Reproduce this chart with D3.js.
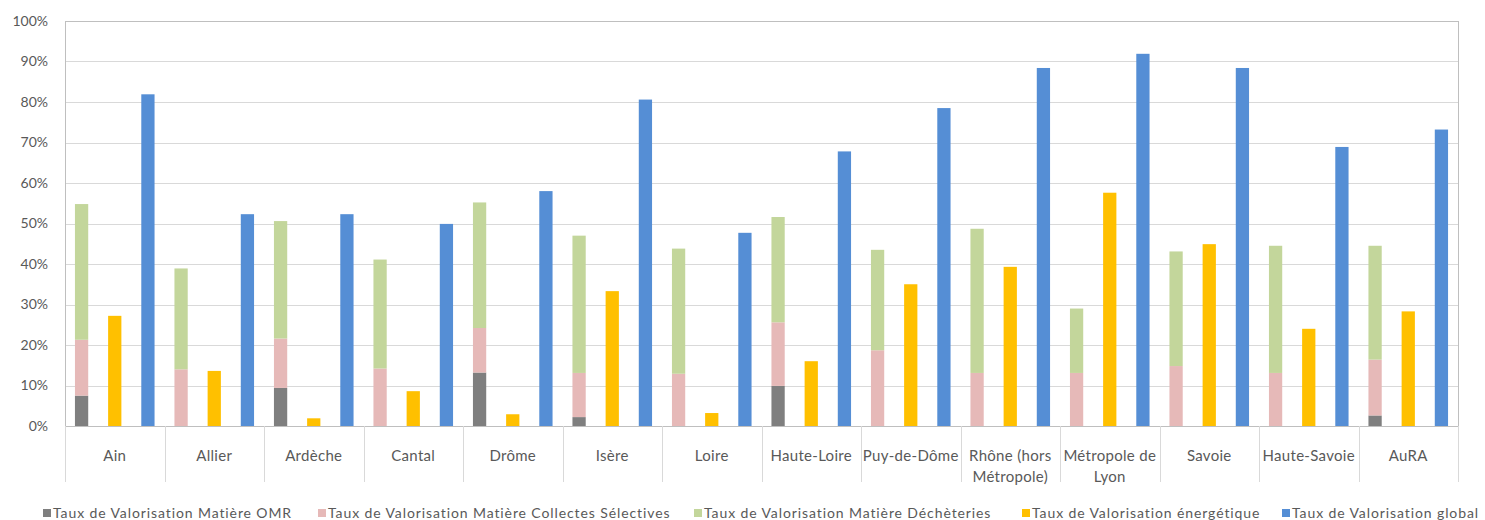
<!DOCTYPE html>
<html>
<head>
<meta charset="utf-8">
<script src="https://cdn.jsdelivr.net/npm/d3@7"></script>
<style>
  body { margin: 0; background: #fff; }
  text { font-family: Lato, "Open Sans", sans-serif; fill: #595959; }
</style>
</head>
<body>
<script>
// categories along the x axis
var categories = ["Ain", "Allier", "Ardèche", "Cantal", "Drôme", "Isère", "Loire", "Haute-Loire",
  "Puy-de-Dôme", "Rhône (hors Métropole)", "Métropole de Lyon", "Savoie", "Haute-Savoie", "AuRA"];

// stacked parts (%)
var omr =        [7.5, 0,    9.4, 0,    13.2, 2.2,  0,    9.9,  0,    0,    0,    0,    0,    2.6];
var collectes =  [13.8, 14.0, 12.2, 14.2, 11.0, 10.9, 12.9, 15.7, 18.7, 13.1, 13.1, 14.8, 13.1, 13.8];
var decheteries = [33.5, 24.9, 29.0, 26.9, 31.0, 33.9, 30.9, 26.0, 24.8, 35.6, 15.9, 28.3, 31.4, 28.1];
// single bars (%)
var energetique = [27.2, 13.6, 1.9, 8.6, 2.9, 33.3, 3.2, 16.0, 35.0, 39.3, 57.6, 44.9, 24.0, 28.3];
var global =      [81.9, 52.3, 52.3, 49.9, 58.0, 80.6, 47.7, 67.8, 78.5, 88.4, 91.9, 88.4, 68.9, 73.2];

var yTicks = [0, 10, 20, 30, 40, 50, 60, 70, 80, 90, 100];

var seriesNames = ["Taux de Valorisation Matière OMR", "Taux de Valorisation Matière Collectes Sélectives",
  "Taux de Valorisation Matière Déchèteries", "Taux de Valorisation énergétique", "Taux de Valorisation global"];
var colors = ["#7f7f7f", "#e6b9b8", "#c3d69b", "#ffc000", "#558ed5"];

var width = 1485, height = 520;
var pLeft = 65, pRight = 1458, pTop = 21, pBottom = 426;

var svg = d3.select("body").append("svg").attr("width", width).attr("height", height);

var x = d3.scaleBand().domain(categories).range([pLeft, pRight]);
var slot = d3.scaleBand().domain([0, 1, 2]).range([0, x.bandwidth()]).paddingInner(0.6).paddingOuter(0.3);
var y = d3.scaleLinear().domain([0, 100]).range([pBottom, pTop]);

// gridlines
svg.append("g").selectAll("line").data(yTicks.slice(1, -1)).enter().append("line")
  .attr("x1", pLeft).attr("x2", pRight)
  .attr("y1", function (d) { return Math.round(y(d)) + 0.5; }).attr("y2", function (d) { return Math.round(y(d)) + 0.5; })
  .attr("stroke", "#d9d9d9").attr("stroke-width", 1);

// plot border
svg.append("rect").attr("x", pLeft + 0.5).attr("y", pTop + 0.5)
  .attr("width", pRight - pLeft).attr("height", pBottom - pTop)
  .attr("fill", "none").attr("stroke", "#bfbfbf");

// y labels
var yAxis = d3.axisLeft(y).tickValues(yTicks).tickFormat(function (d) { return d + "%"; }).tickSize(0).tickPadding(17);
var ya = svg.append("g").attr("transform", "translate(" + pLeft + ",0)").call(yAxis);
ya.select(".domain").remove();
ya.selectAll("text").style("font-size", "14px").attr("fill", "#595959")
  .style("font-family", "Lato, 'Open Sans', sans-serif");

// category dividers below axis
var edges = categories.map(function (c) { return x(c); }).concat([pRight]);
svg.append("g").selectAll("line").data(edges).enter().append("line")
  .attr("x1", function (d) { return Math.round(d) + 0.5; }).attr("x2", function (d) { return Math.round(d) + 0.5; })
  .attr("y1", pBottom).attr("y2", 482)
  .attr("stroke", "#d9d9d9");

// category labels
var lab = svg.append("g").selectAll("text").data(categories).enter().append("text")
  .attr("text-anchor", "middle")
  .attr("x", function (d) { return x(d) + x.bandwidth() / 2; })
  .style("font-size", "15px").style("letter-spacing", "0.3px");
lab.each(function (d) {
  var t = d3.select(this);
  var lines = d.length > 12 ? (d.indexOf("(") > 0 ? [d.slice(0, d.indexOf(" Mét")), d.slice(d.indexOf(" Mét") + 1)]
    : [d.slice(0, d.lastIndexOf(" ")), d.slice(d.lastIndexOf(" ") + 1)]) : [d];
  lines.forEach(function (l, i) {
    t.append("tspan").attr("x", x(d) + x.bandwidth() / 2).attr("y", 461 + i * 21).text(l);
  });
});

// stacked bars
var rows = categories.map(function (c, i) {
  return { cat: c, omr: omr[i], cs: collectes[i], dec: decheteries[i] };
});
var stack = d3.stack().keys(["omr", "cs", "dec"])(rows);
svg.append("g").selectAll("g").data(stack).enter().append("g")
  .attr("fill", function (d, i) { return colors[i]; })
  .selectAll("rect").data(function (d) { return d; }).enter().append("rect")
  .attr("x", function (d) { return x(d.data.cat) + slot(0); })
  .attr("width", slot.bandwidth())
  .attr("y", function (d) { return y(d[1]); })
  .attr("height", function (d) { return y(d[0]) - y(d[1]); });

// energetique + global bars
[energetique, global].forEach(function (vals, k) {
  svg.append("g").attr("fill", colors[3 + k]).selectAll("rect").data(vals).enter().append("rect")
    .attr("x", function (d, i) { return x(categories[i]) + slot(k + 1); })
    .attr("width", slot.bandwidth())
    .attr("y", function (d) { return y(d); })
    .attr("height", function (d) { return pBottom - y(d); });
});

// legend
var legX = [43, 318, 694, 1022, 1282];
var leg = svg.append("g").selectAll("g").data(seriesNames).enter().append("g")
  .attr("transform", function (d, i) { return "translate(" + legX[i] + ",513)"; });
leg.append("rect").attr("x", 0).attr("y", -4).attr("width", 8).attr("height", 8)
  .attr("fill", function (d, i) { return colors[i]; });
leg.append("text").attr("x", 10).attr("y", 5).style("font-size", "14px").style("letter-spacing", "0.9px")
  .text(function (d) { return d; });
</script>
</body>
</html>
